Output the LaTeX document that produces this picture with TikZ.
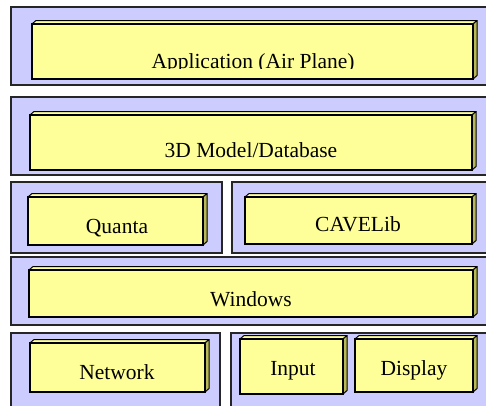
\documentclass[tikz,border=0pt]{standalone}
\usepackage{fontspec}
\setmainfont{Liberation Serif}
\definecolor{panelblue}{HTML}{CCCCFF}
\definecolor{boxyellow}{HTML}{FFFF99}
\definecolor{boxside}{HTML}{B8B858}
\tikzset{
  panel/.style={fill=panelblue, draw=black!85, line width=1.6pt},
  front/.style={fill=boxyellow, draw=black, line width=1.3pt, inner sep=0pt, outer sep=0pt},
  topface/.style={fill=boxyellow, draw=black, line width=1pt, line join=round},
  sideface/.style={fill=boxside, draw=black, line width=1pt, line join=round},
  lbl/.style={font=\fontsize{21.5}{25}\selectfont, anchor=base, inner sep=0pt}
}
% #1 name, #2 x1, #3 y1, #4 x2, #5 y2 (pixel coordinates, y downwards)
\newcommand\threedbox[5]{%
  \draw[topface] (#2,#3) -- ++(4,-3.5) -- ++({#4-#2},0) -- (#4,#3) -- cycle;
  \draw[sideface] (#4,#3) -- ++(4,-3.5) -- ++(0,{#5-#3}) -- (#4,#5) -- cycle;
  \node[front, minimum width={(#4-#2)*1pt}, minimum height={(#5-#3)*1pt}] (#1) at ({(#2+#4)/2},{(#3+#5)/2}) {};
}
\begin{document}
\begin{tikzpicture}[x=1pt,y=-1pt]
  \clip (0,0) rectangle (486,405);
  % panels
  \draw[panel] (11,7) rectangle (495,85);
  \draw[panel] (11,97) rectangle (495,175);
  \draw[panel] (11,182) rectangle (222,253);
  \draw[panel] (232,182) rectangle (495,253);
  \draw[panel] (11,257) rectangle (495,325);
  \draw[panel] (11,333) rectangle (220,412);
  \draw[panel] (231,333) rectangle (495,412);
  % boxes
  \threedbox{app}{32}{24}{473}{79}
  \threedbox{db}{30}{115}{472}{170}
  \threedbox{quanta}{28}{197}{203}{245}
  \threedbox{cave}{245}{197}{472}{244}
  \threedbox{win}{29}{270}{473}{317}
  \threedbox{net}{30}{343}{205}{392}
  \threedbox{input}{240}{339}{343}{394}
  \threedbox{display}{355}{339}{473}{392}
  % labels
  \begin{scope}
    \clip (0,0) rectangle (486,68.5);
    \node[lbl] (tapp) at (253,68) {Application (Air Plane)};
  \end{scope}
  \node[lbl] (tdb) at (251,157) {3D Model/Database};
  \node[lbl] (tquanta) at (117,233) {Quanta};
  \node[lbl] (tcave) at (358,231) {CAVELib};
  \node[lbl] (twin) at (251,306) {Windows};
  \node[lbl] (tnet) at (117,379) {Network};
  \node[lbl] (tinput) at (293,375) {Input};
  \node[lbl] (tdisplay) at (414,375) {Display};
\end{tikzpicture}
\end{document}
